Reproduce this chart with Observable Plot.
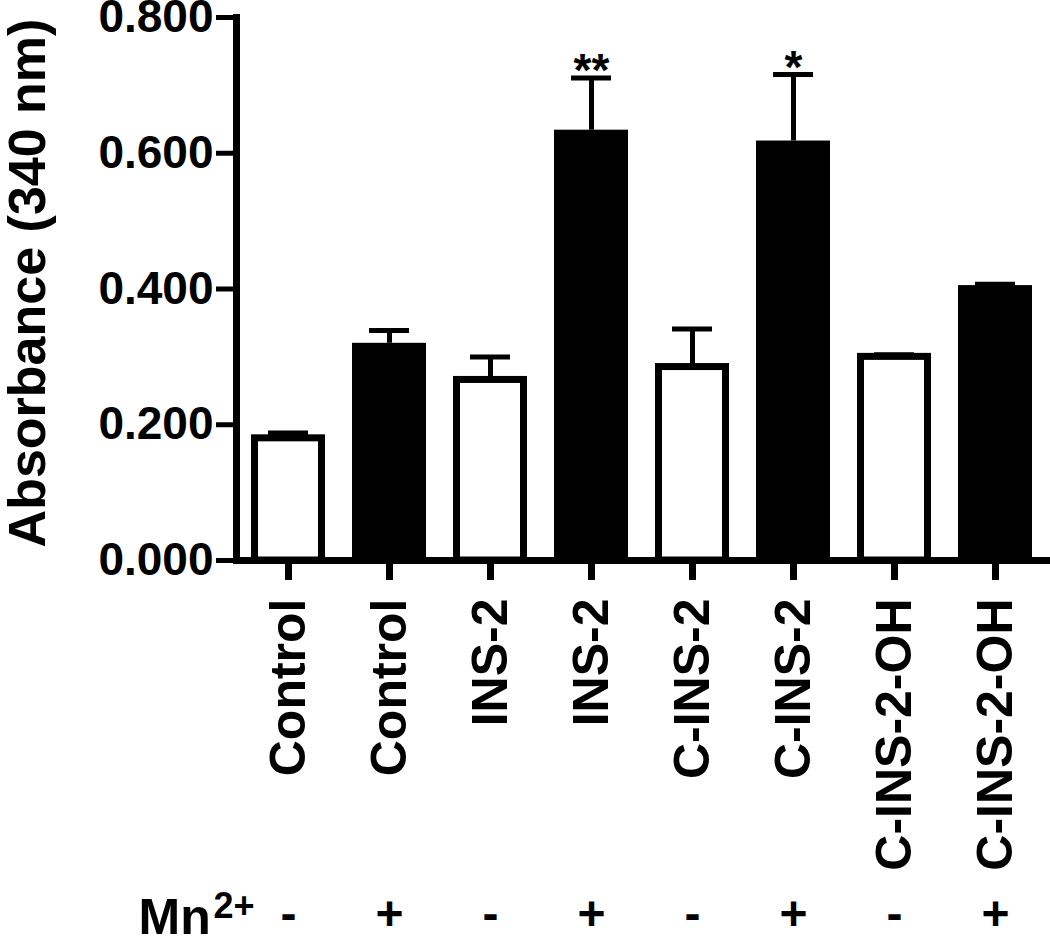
<!DOCTYPE html>
<html><head><meta charset="utf-8">
<script src="https://cdn.jsdelivr.net/npm/d3@7"></script>
<script src="https://cdn.jsdelivr.net/npm/@observablehq/plot@0.6"></script>
<style>body{margin:0;background:#fff}</style>
</head><body><div id="chart"></div>
<script>
const groups = ["Control","Control","INS-2","INS-2","C-INS-2","C-INS-2","C-INS-2-OH","C-INS-2-OH"];
const mn = ["-","+","-","+","-","+","-","+"];
const means = [0.180, 0.320, 0.266, 0.634, 0.285, 0.618, 0.300, 0.405];
const sems = [0.008, 0.019, 0.034, 0.077, 0.056, 0.098, 0.003, 0.002];
const stars = ["","","","**","","*","",""];
const yTicks = [0, 0.2, 0.4, 0.6, 0.8];

const data = groups.map((g, i) => ({key: i, label: g, mn: mn[i], mean: means[i], top: means[i] + sems[i], star: stars[i]}));

const chart = Plot.plot({
  width: 1050, height: 943,
  marginLeft: 236, marginRight: 4, marginTop: 17, marginBottom: 383,
  style: {fontFamily: "'Liberation Sans', Arial, sans-serif", fontWeight: "bold", background: "white", color: "black", overflow: "visible"},
  x: {type: "band", domain: data.map(d => d.key), paddingInner: 0.27, paddingOuter: 0.138, axis: null},
  y: {domain: [0, 0.8], axis: null},
  marks: [
    Plot.barY(data.filter(d => d.mn === "+"), {x: "key", y: "mean", fill: "black"}),
    Plot.barY(data.filter(d => d.mn === "-"), {x: "key", y: "mean", fill: "white", stroke: "black", strokeWidth: 7, insetLeft: 3.5, insetRight: 3.5}),
    Plot.ruleX(data, {x: "key", y1: "mean", y2: "top", stroke: "black", strokeWidth: 5}),
    Plot.tickY(data, {x: "key", y: "top", stroke: "black", strokeWidth: 5, insetLeft: 17, insetRight: 17}),
    Plot.text(data, {x: "key", y: "top", text: "star", lineAnchor: "bottom", dy: 8, fontSize: 46, fill: "black"}),
    Plot.axisY({ticks: yTicks, tickFormat: d3.format(".3f"), tickSize: 20, tickPadding: 3, fontSize: 46, strokeWidth: 5, label: null}),
    Plot.axisX({tickFormat: i => groups[i], tickRotate: -90, tickSize: 20, tickPadding: 18, fontSize: 50, strokeWidth: 7, label: null}),
    Plot.frame({anchor: "left", stroke: "black", strokeWidth: 7}),
    Plot.frame({anchor: "bottom", stroke: "black", strokeWidth: 7}),
    Plot.text(["Absorbance (340 nm)"], {frameAnchor: "left", dx: -208, dy: -6, rotate: -90, textAnchor: "middle", fontSize: 52, fill: "black"}),
    Plot.text(data, {x: "key", text: "mn", frameAnchor: "bottom", dy: 369, fontSize: 48, fill: "black"}),
    Plot.text(["Mn"], {frameAnchor: "bottom-left", dx: -98, dy: 373, lineAnchor: "bottom", textAnchor: "start", fontSize: 50, fill: "black"}),
    Plot.text(["2+"], {frameAnchor: "bottom-left", dx: -23, dy: 357, lineAnchor: "bottom", textAnchor: "start", fontSize: 36, fill: "black"})
  ]
});
document.getElementById("chart").appendChild(chart);
</script>
</body></html>
